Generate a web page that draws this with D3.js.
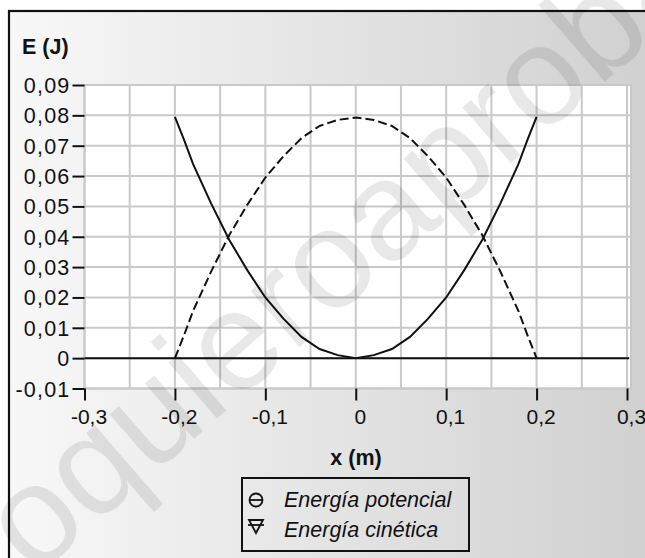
<!DOCTYPE html>
<html>
<head>
<meta charset="utf-8">
<style>
    body {
        margin: 0px;
        padding: 0px;
        background-color: white;
        overflow: hidden;
    }
    svg text {
        font-family: "Liberation Sans", Arial, sans-serif;
        fill: #111;
    }
    .grid line {
        stroke: #c9c9c9;
        stroke-width: 2px;
    }
    .axis-title {
        font-size: 21.5px;
        font-weight: bold;
    }
    .legend-label {
        font-size: 21.5px;
        font-style: italic;
    }
</style>
</head>
<body>
<script src="https://d3js.org/d3.v7.min.js"></script>
<script>
// values
var posX = [-0.2, -0.19, -0.18, -0.16, -0.14, -0.12, -0.1, -0.08, -0.06, -0.04, -0.02, 0,
            0.02, 0.04, 0.06, 0.08, 0.1, 0.12, 0.14, 0.16, 0.18, 0.19, 0.2];
var ePotencial = [0.0795, 0.072, 0.064, 0.051, 0.039, 0.029, 0.020, 0.013, 0.007, 0.003, 0.001, 0,
                  0.001, 0.003, 0.007, 0.013, 0.020, 0.029, 0.039, 0.051, 0.064, 0.072, 0.0795];
var eCinetica = [0, 0.0075, 0.0155, 0.0285, 0.0405, 0.0505, 0.0595, 0.0665, 0.0725, 0.0765, 0.0785, 0.0793,
                 0.0785, 0.0765, 0.0725, 0.0665, 0.0595, 0.0505, 0.0405, 0.0285, 0.0155, 0.0075, 0];
var xTicks = [-0.3, -0.2, -0.1, 0, 0.1, 0.2, 0.3];
var yTicks = [-0.01, 0, 0.01, 0.02, 0.03, 0.04, 0.05, 0.06, 0.07, 0.08, 0.09];
var xGrid = [-0.3, -0.25, -0.2, -0.15, -0.1, -0.05, 0, 0.05, 0.1, 0.15, 0.2, 0.25, 0.3];
var legendNames = ["Energía potencial", "Energía cinética"];

var width = 645, height = 558;

var x = d3.scaleLinear().domain([-0.3, 0.3]).range([84.5, 627]);
var y = d3.scaleLinear().domain([-0.01, 0.09]).range([388.5, 85]);

// comma decimals, plain hyphen for negatives
var fmt = function(d) { return String(+d.toFixed(2)).replace(".", ","); };

var svg = d3.select("body").append("svg")
    .attr("width", width)
    .attr("height", height);

var defs = svg.append("defs");
var grad = defs.append("linearGradient")
    .attr("id", "bg")
    .attr("x1", "0%").attr("y1", "0%")
    .attr("x2", "100%").attr("y2", "0%");
grad.append("stop").attr("offset", "0%").attr("stop-color", "#f8f8f8");
grad.append("stop").attr("offset", "100%").attr("stop-color", "#d0d0d0");

// outer frame
svg.append("rect")
    .attr("x", 9).attr("y", 11)
    .attr("width", width).attr("height", height)
    .attr("fill", "url(#bg)")
    .attr("stroke", "#111")
    .attr("stroke-width", 2.2);

// plot area
svg.append("rect")
    .attr("x", x(-0.3)).attr("y", y(0.09))
    .attr("width", x(0.3) - x(-0.3) + 4).attr("height", y(-0.01) - y(0.09))
    .attr("fill", "white")
    .attr("stroke", "#c9c9c9")
    .attr("stroke-width", 2);

var grid = svg.append("g").attr("class", "grid");
grid.selectAll(".vg")
    .data(xGrid)
    .enter().append("line")
    .attr("x1", function(d) { return x(d); })
    .attr("x2", function(d) { return x(d); })
    .attr("y1", y(0.09))
    .attr("y2", y(-0.01));
grid.selectAll(".hg")
    .data(yTicks)
    .enter().append("line")
    .attr("x1", x(-0.3))
    .attr("x2", x(0.3) + 4)
    .attr("y1", function(d) { return y(d); })
    .attr("y2", function(d) { return y(d); });

// zero line
svg.append("line")
    .attr("x1", x(-0.3)).attr("x2", x(0.3) + 2)
    .attr("y1", y(0)).attr("y2", y(0))
    .attr("stroke", "#111")
    .attr("stroke-width", 2);

// axes
var xAxis = d3.axisBottom(x)
    .tickValues(xTicks)
    .tickSize(12)
    .tickFormat(fmt);
var yAxis = d3.axisLeft(y)
    .tickValues(yTicks)
    .tickSize(12)
    .tickFormat(fmt);

var gx = svg.append("g")
    .attr("transform", "translate(0," + y(-0.01) + ")")
    .call(xAxis);
gx.select(".domain").remove();
gx.selectAll(".tick line").attr("stroke", "#111").attr("stroke-width", 2);
gx.selectAll(".tick text")
    .attr("fill", null)
    .style("font-family", "'Liberation Sans', Arial, sans-serif")
    .style("font-size", "21px")
    .attr("dx", 4)
    .attr("y", 35)
    .attr("dy", 0);

var gy = svg.append("g")
    .attr("transform", "translate(" + x(-0.3) + ",0)")
    .call(yAxis);
gy.select(".domain").remove();
gy.selectAll(".tick line").attr("stroke", "#111").attr("stroke-width", 2);
gy.selectAll(".tick text")
    .attr("fill", null)
    .style("font-family", "'Liberation Sans', Arial, sans-serif")
    .style("font-size", "21.5px")
    .style("letter-spacing", "1.2px")
    .attr("x", -14)
    .attr("dy", "0.35em");

// curves
var line = d3.line()
    .x(function(d) { return x(d[0]); })
    .y(function(d) { return y(d[1]); });

svg.append("path")
    .datum(posX.map(function(v, i) { return [v, ePotencial[i]]; }))
    .attr("d", line)
    .attr("fill", "none")
    .attr("stroke", "#111")
    .attr("stroke-width", 2);

svg.append("path")
    .datum(posX.map(function(v, i) { return [v, eCinetica[i]]; }))
    .attr("d", line)
    .attr("fill", "none")
    .attr("stroke", "#111")
    .attr("stroke-width", 2)
    .attr("stroke-dasharray", "9,4");

// titles
svg.append("text")
    .attr("class", "axis-title")
    .attr("x", 22).attr("y", 54)
    .text("E (J)");
svg.append("text")
    .attr("class", "axis-title")
    .attr("x", 356).attr("y", 465)
    .style("text-anchor", "middle")
    .text("x (m)");

// legend
var leg = svg.append("g");
leg.append("rect")
    .attr("x", 242).attr("y", 478)
    .attr("width", 227).attr("height", 73)
    .attr("fill", "none")
    .attr("stroke", "#111")
    .attr("stroke-width", 2);

leg.append("circle")
    .attr("cx", 256).attr("cy", 500)
    .attr("r", 6.5)
    .attr("fill", "none").attr("stroke", "#111").attr("stroke-width", 1.8);
leg.append("line")
    .attr("x1", 249.5).attr("x2", 262.5)
    .attr("y1", 500).attr("y2", 500)
    .attr("stroke", "#111").attr("stroke-width", 1.8);

leg.append("path")
    .attr("d", "M249,520 L263,520 L256,533 Z")
    .attr("fill", "none").attr("stroke", "#111").attr("stroke-width", 1.8);
leg.append("line")
    .attr("x1", 248).attr("x2", 264)
    .attr("y1", 525).attr("y2", 525)
    .attr("stroke", "#111").attr("stroke-width", 1.8);

leg.selectAll(".legend-label")
    .data(legendNames)
    .enter().append("text")
    .attr("class", "legend-label")
    .attr("x", 284)
    .attr("y", function(d, i) { return 507 + i * 30; })
    .text(function(d) { return d; });

// watermark
svg.append("text")
    .attr("transform", "translate(-19,624) rotate(-41)")
    .style("font-size", "140px")
    .style("fill", "#000")
    .style("opacity", 0.085)
    .text("yoquieroaprobar.es");
</script>
</body>
</html>
